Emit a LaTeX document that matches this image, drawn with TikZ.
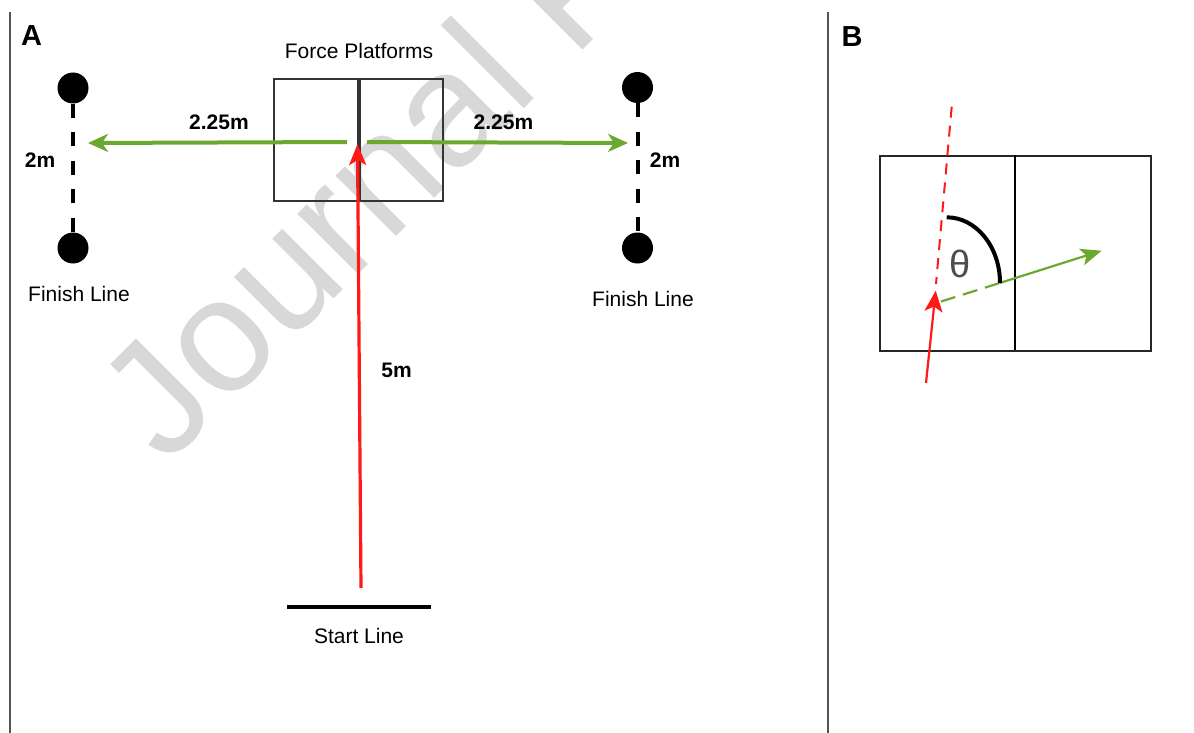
\documentclass[tikz,border=0pt]{standalone}
\usepackage{fontspec}
\setmainfont{Liberation Sans}
\usetikzlibrary{arrows.meta}
\definecolor{fgreen}{RGB}{108,168,48}
\definecolor{fred}{RGB}{255,25,25}
\definecolor{wmgray}{RGB}{216,216,216}
\definecolor{boxgray}{RGB}{51,51,51}
\definecolor{framegray}{RGB}{85,85,85}
\definecolor{thetagray}{RGB}{77,77,77}
\begin{document}
\begin{tikzpicture}[x=1pt,y=-1pt,
  lbl/.style={font=\fontsize{21}{25}\selectfont, inner sep=0pt},
  blbl/.style={font=\fontsize{21}{25}\selectfont\bfseries, inner sep=0pt},
  panel/.style={font=\fontsize{29}{33}\selectfont\bfseries, inner sep=0pt},
  wmark/.style={font=\fontsize{162}{166}\selectfont, text=wmgray, inner sep=0pt},
  frameline/.style={draw=framegray, line width=1.6pt},
  plat/.style={draw=boxgray, line width=2.2pt, inner sep=0pt},
  bplat/.style={draw=black!85, line width=2pt, inner sep=0pt},
  dot/.style={circle, fill=black, minimum size=31pt, inner sep=0pt},
  gapline/.style={line width=4pt, dash pattern=on 14pt off 14.5pt},
  garrow/.style={draw=fgreen, line width=4pt, -{Stealth[length=20pt,width=18pt,inset=6pt]}},
  rarrow/.style={draw=fred, line width=3.2pt, -{Stealth[length=21pt,width=17pt,inset=5pt]}},
  rdash/.style={draw=fred, line width=2pt, dash pattern=on 11pt off 8pt},
  rbarrow/.style={draw=fred, line width=2.2pt, -{Stealth[length=21pt,width=18pt,inset=5pt]}},
  gdash/.style={draw=fgreen, line width=2.2pt, dash pattern=on 15pt off 8pt},
  gbarrow/.style={draw=fgreen, line width=2.2pt, -{Stealth[length=21pt,width=17pt,inset=5pt]}}
]
\useasboundingbox (0,0) rectangle (1194,733);
% watermark
\begin{scope}
\clip (0,0) rectangle (1194,733);
\node[wmark, rotate=45, anchor=base west] (wm) at (166,467) {Journal Pre-proof};
\end{scope}
% panel frames
\draw[frameline] (10,12) -- (10,733);
\draw[frameline] (828,12) -- (828,733);
\node[panel] (pa) at (31.5,36) {A};
\node[panel] (pb) at (852,36.5) {B};
% ---------- panel A ----------
\node[plat, minimum width=169pt, minimum height=122pt, anchor=north west] (fp) at (273,78) {};
\draw[draw=boxgray, line width=4pt] (fp.north) -- (fp.south);
\node[lbl] (fptext) at (359,51) {Force Platforms};
% green arrows
\coordinate (gl0) at (347,142);
\coordinate (gl1) at (88,143);
\coordinate (gr0) at (367,142);
\coordinate (gr1) at (628,143);
\draw[garrow] (gl0) -- (gl1);
\draw[garrow] (gr0) -- (gr1);
% red arrow
\coordinate (rs) at (361,588);
\coordinate (rt) at (357.5,144);
\draw[rarrow] (rs) -- (rt);
% finish lines
\node[dot] (lt) at (73,88) {};
\node[dot] (lb) at (73,248) {};
\draw[gapline] (lt) -- (lb);
\node[dot] (rt2) at (637.5,87.5) {};
\node[dot] (rb2) at (637.5,248) {};
\draw[gapline] (rt2) -- (rb2);
% labels
\node[blbl] (l2m) at (40,160) {2m};
\node[blbl] (r2m) at (665,160) {2m};
\node[blbl] (l225) at (219,122) {2.25m};
\node[blbl] (r225) at (503.5,122) {2.25m};
\node[blbl] (l5m) at (396.5,370) {5m};
\node[lbl] (lfin) at (79,294) {Finish Line};
\node[lbl] (rfin) at (643,299) {Finish Line};
% start line
\coordinate (sl0) at (287,607);
\coordinate (sl1) at (431,607);
\draw[line width=4pt] (sl0) -- (sl1);
\node[lbl] (stl) at (359,636) {Start Line};
% ---------- panel B ----------
\node[bplat, minimum width=271pt, minimum height=195pt, anchor=north west] (bp) at (879,155) {};
\coordinate (bdt) at (1015,155);
\coordinate (bdb) at (1015,350);
\draw[line width=2.8pt] (bdt) -- (bdb);
% red path
\coordinate (rdt) at (951.7,106.7);
\coordinate (rdb) at (936,284);
\draw[rdash] (rdt) -- (rdb);
\coordinate (ra0) at (926,383);
\coordinate (ra1) at (935.7,290.7);
\draw[rbarrow] (ra0) -- (ra1);
% green path
\coordinate (ga0) at (941,301.5);
\coordinate (gam) at (1000,282.9);
\coordinate (ga1) at (1101.7,250.7);
\draw[gdash] (ga0) -- (gam);
\draw[gbarrow] (gam) -- (ga1);
% angle arc
\coordinate (arc0) at (946.7,217.3);
\coordinate (arc1) at (1000,283);
\draw[line width=4pt] (arc0) .. controls (976.1,217.3) and (1000,246.7) .. (arc1);
\node[font=\fontsize{38}{40}\selectfont, text=thetagray, inner sep=0pt] (th) at (960,264) {θ};
\end{tikzpicture}
\end{document}
